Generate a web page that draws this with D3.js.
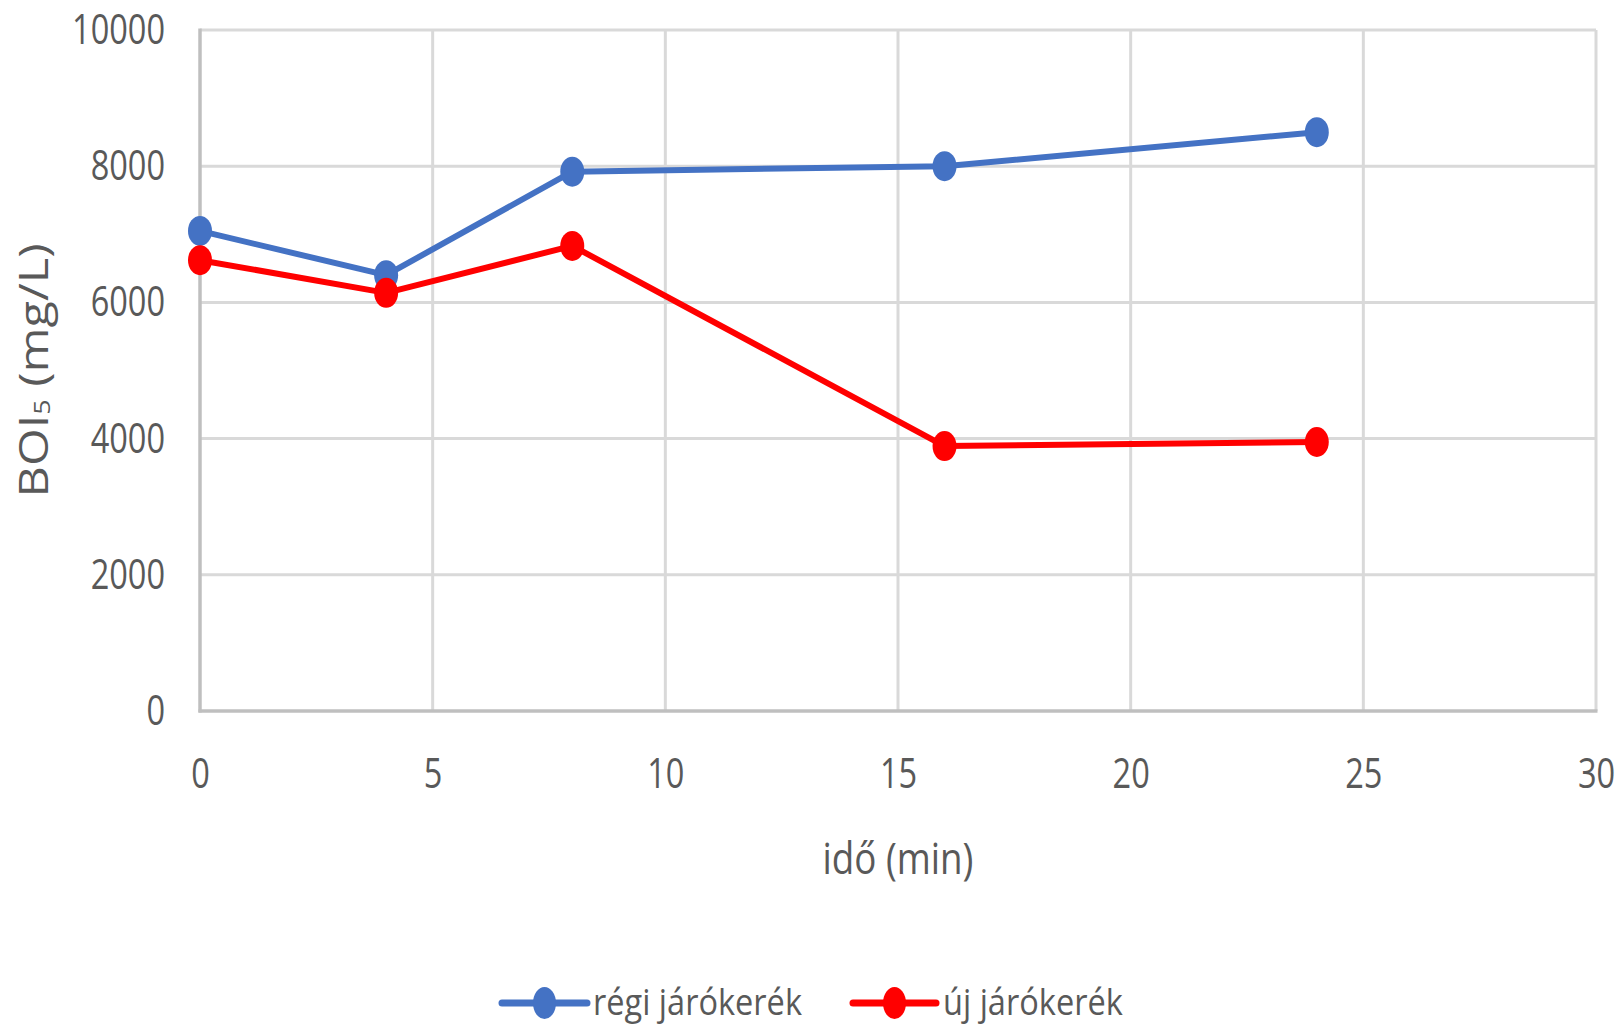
<!DOCTYPE html>
<html>
<head>
<meta charset="utf-8">
<script src="https://cdn.jsdelivr.net/npm/d3@7"></script>
<style>
  html, body { margin: 0; padding: 0; background: #fff; }
  svg { display: block; font-family: "Open Sans", sans-serif; }
</style>
</head>
<body>
<svg id="chart" width="1620" height="1028"></svg>
<script>
// Measurement times (min)
const times = [0, 4, 8, 16, 24];
// BOI5 (mg/L) for the old and new impeller
const regiValues = [7050, 6400, 7920, 8000, 8500];
const ujValues = [6620, 6140, 6830, 3890, 3950];
const seriesNames = ["régi járókerék", "új járókerék"];
const seriesColors = ["#4472C4", "#FF0000"];
const xTicks = [0, 5, 10, 15, 20, 25, 30];
const yTicks = [0, 2000, 4000, 6000, 8000, 10000];

const series = [
  { name: seriesNames[0], color: seriesColors[0], values: regiValues },
  { name: seriesNames[1], color: seriesColors[1], values: ujValues }
];

const svg = d3.select("#chart");
const textColor = "#595959";
const plotLeft = 200, plotRight = 1596, plotTop = 30, plotBottom = 711;

const x = d3.scaleLinear().domain([0, 30]).range([plotLeft, plotRight]);
const y = d3.scaleLinear().domain([0, 10000]).range([plotBottom, plotTop]);

// Condense a horizontal text to a given width (narrow, Calibri-like look)
function condense(node, width, base) {
  const t = d3.select(node);
  const natural = node.getComputedTextLength();
  const sx = width / natural;
  const x0 = +t.attr("x") || 0;
  t.attr("x", x0 / sx);
  t.attr("transform", (base ? base + " " : "") + `scale(${sx},1)`);
}

// gridlines
const grid = svg.append("g");
grid.selectAll("line.h").data(yTicks.filter(d => d > 0)).join("line")
  .attr("x1", plotLeft).attr("x2", plotRight)
  .attr("y1", d => y(d)).attr("y2", d => y(d))
  .attr("stroke", "#d9d9d9").attr("stroke-width", 3);
grid.selectAll("line.v").data(xTicks.filter(d => d > 0)).join("line")
  .attr("x1", d => x(d)).attr("x2", d => x(d))
  .attr("y1", plotTop).attr("y2", plotBottom)
  .attr("stroke", "#d9d9d9").attr("stroke-width", 3);
// axis lines
grid.append("line").attr("x1", plotLeft).attr("x2", plotLeft).attr("y1", plotTop - 1.5).attr("y2", plotBottom + 1.5)
  .attr("stroke", "#bfbfbf").attr("stroke-width", 3.5);
grid.append("line").attr("x1", plotLeft - 1.5).attr("x2", plotRight + 1.5).attr("y1", plotBottom).attr("y2", plotBottom)
  .attr("stroke", "#bfbfbf").attr("stroke-width", 3.5);

const digitW = 18.6;

// y axis labels
const yAxis = svg.append("g").attr("transform", `translate(${plotLeft},0)`)
  .call(d3.axisLeft(y).tickValues(yTicks).tickSize(0).tickPadding(35).tickFormat(d3.format("d")));
yAxis.select(".domain").remove();
yAxis.selectAll("text")
  .attr("font-size", 42).attr("font-family", "Open Sans").attr("fill", textColor)
  .each(function(d) { condense(this, String(d).length * digitW); });

// x axis labels
const xAxis = svg.append("g").attr("transform", `translate(0,${plotBottom})`)
  .call(d3.axisBottom(x).tickValues(xTicks).tickSize(0).tickPadding(47).tickFormat(d3.format("d")));
xAxis.select(".domain").remove();
xAxis.selectAll("text")
  .attr("font-size", 42).attr("font-family", "Open Sans").attr("fill", textColor)
  .each(function(d) { condense(this, String(d).length * digitW); });

// x axis title
svg.append("text")
  .attr("x", (plotLeft + plotRight) / 2).attr("y", 874)
  .attr("text-anchor", "middle").attr("font-size", 44).attr("fill", textColor)
  .text("idő (min)")
  .each(function() { condense(this, 151); });

// y axis title
const yTitle = svg.append("text")
  .attr("transform", `translate(48,${(plotTop + plotBottom) / 2}) rotate(-90)`)
  .attr("text-anchor", "middle").attr("font-size", 40)
  .attr("fill", textColor)
  .attr("textLength", 254).attr("lengthAdjust", "spacingAndGlyphs");
yTitle.append("tspan").text("BOI");
yTitle.append("tspan").attr("font-size", 22).attr("dy", 2).text("5");
yTitle.append("tspan").attr("dy", -2).text(" (mg/L)");

// series lines and markers
const line = d3.line().x((d, i) => x(times[i])).y(d => y(d));
const plot = svg.append("g");
series.forEach(s => {
  plot.append("path").datum(s.values)
    .attr("d", line).attr("fill", "none")
    .attr("stroke", s.color).attr("stroke-width", 6)
    .attr("stroke-linejoin", "round").attr("stroke-linecap", "round");
  plot.selectAll(null).data(s.values).join("ellipse")
    .attr("cx", (d, i) => x(times[i])).attr("cy", d => y(d))
    .attr("rx", 12).attr("ry", 15).attr("fill", s.color);
});

// legend
const legendItems = [
  { x0: 502, x1: 587, tx: 593, len: 209 },
  { x0: 853, x1: 936, tx: 943, len: 180 }
];
const ly = 1003;
const legend = svg.append("g");
series.forEach((s, i) => {
  const it = legendItems[i];
  legend.append("line").attr("x1", it.x0).attr("x2", it.x1).attr("y1", ly).attr("y2", ly)
    .attr("stroke", s.color).attr("stroke-width", 7).attr("stroke-linecap", "round");
  legend.append("ellipse").attr("cx", (it.x0 + it.x1) / 2).attr("cy", ly)
    .attr("rx", 11.5).attr("ry", 16).attr("fill", s.color);
  legend.append("text").attr("x", it.tx).attr("y", 1015)
    .attr("font-size", 37).attr("fill", textColor)
    .text(s.name)
    .each(function() { condense(this, it.len); });
});
</script>
</body>
</html>
